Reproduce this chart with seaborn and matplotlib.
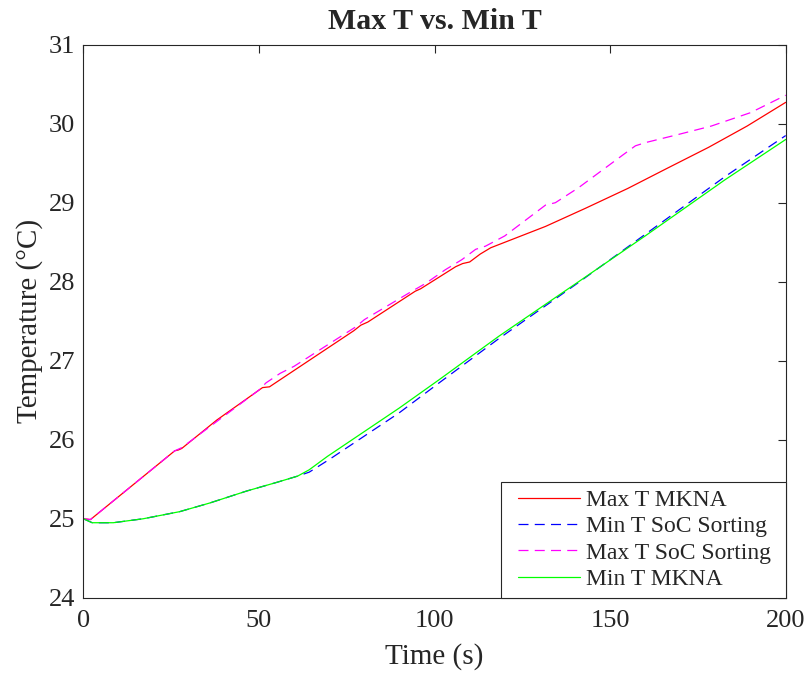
import numpy as np
import pandas as pd
import matplotlib
matplotlib.use("Agg")
import matplotlib.pyplot as plt
import seaborn as sns
from matplotlib.legend_handler import HandlerLine2D

# values
t_max_mkna = [0, 2, 26, 27, 28, 38, 51, 53, 54, 77, 79, 81, 94.5, 96, 106, 108, 110,
              113, 116, 131.6, 143, 155, 166, 178, 189, 200]
T_max_mkna = [25.00, 24.99, 25.86, 25.87, 25.89, 26.25, 26.66, 26.67, 26.70, 27.38, 27.45,
              27.49, 27.88, 27.91, 28.19, 28.23, 28.25, 28.35, 28.43, 28.70, 28.93, 29.18,
              29.43, 29.70, 29.97, 30.27]

t_min_soc = [0, 2.5, 8.5, 17, 27.4, 36, 46.4, 55, 61, 64.3, 70, 89.9, 101.3, 118.3,
             141, 160, 182.7, 200]
T_min_soc = [25.00, 24.95, 24.95, 25.00, 25.09, 25.20, 25.35, 25.46, 25.54, 25.59, 25.75,
             26.34, 26.72, 27.28, 27.99, 28.60, 29.33, 29.85]

t_max_soc = [0, 2, 26, 27, 28, 50, 52, 56, 60, 77.6, 80, 92.8, 97.5, 103, 107.8, 111.7,
             114.5, 120, 131.6, 134.4, 141, 153.8, 157.2, 160, 170, 178.8, 190, 200]
T_max_soc = [25.00, 24.99, 25.86, 25.88, 25.90, 26.63, 26.72, 26.84, 26.93, 27.43, 27.52,
             27.86, 27.98, 28.15, 28.28, 28.41, 28.45, 28.58, 28.97, 29.00, 29.19, 29.61,
             29.72, 29.76, 29.87, 29.97, 30.14, 30.36]

t_min_mkna = [0, 2.5, 8.5, 17, 27.4, 36, 46.4, 55, 61, 64.3, 69.5, 89.9, 101.3, 118.3,
              141, 160, 182.7, 200]
T_min_mkna = [25.00, 24.95, 24.95, 25.00, 25.09, 25.20, 25.35, 25.46, 25.54, 25.62, 25.79,
              26.40, 26.76, 27.31, 28.00, 28.58, 29.29, 29.80]

x_ticks = [0, 50, 100, 150, 200]
y_ticks = [24, 25, 26, 27, 28, 29, 30, 31]

sns.set_theme(style="white")
plt.rcParams['font.family'] = ['Liberation Serif', 'DejaVu Serif']

fig = plt.figure(figsize=(8.1, 6.77), dpi=100)
ax = fig.add_axes([0.103, 0.117, 0.867, 0.817])

dash = [8, 5]
sns.lineplot(x=t_max_mkna, y=T_max_mkna, ax=ax, color='#FF0000', lw=0.9,
             label='Max T MKNA', sort=False)
sns.lineplot(x=t_min_soc, y=T_min_soc, ax=ax, color='#0000FF', lw=0.9,
             label='Min T SoC Sorting', sort=False).lines[-1].set_dashes(dash)
sns.lineplot(x=t_max_soc, y=T_max_soc, ax=ax, color='#FF00FF', lw=0.9,
             label='Max T SoC Sorting', sort=False).lines[-1].set_dashes(dash)
sns.lineplot(x=t_min_mkna, y=T_min_mkna, ax=ax, color='#00FF00', lw=0.9,
             label='Min T MKNA', sort=False)

ax.set_xlim(0, 200)
ax.set_ylim(24, 31)
ax.set_xticks(x_ticks)
ax.set_yticks(y_ticks)
ax.tick_params(direction='in', length=6, width=0.8, top=True, right=True,
               labelsize=19, colors='#262626')
ax.tick_params(axis='x', pad=9)
ax.tick_params(axis='y', pad=6)
for s in ax.spines.values():
    s.set_color('#262626')
    s.set_linewidth(0.8)
    s.set_visible(True)

ax.set_title('Max T vs. Min T', fontsize=21.5, fontweight='bold', pad=11)
ax.set_xlabel('Time (s)', fontsize=21, labelpad=8)
ax.set_ylabel('Temperature (°C)', fontsize=21, labelpad=4)

handles, labels = ax.get_legend_handles_labels()
leg = ax.legend(handles, labels, loc='lower left', bbox_to_anchor=(0.594, 0, 0.406, 0.2),
                mode='expand', fontsize=17, frameon=True, fancybox=False,
                edgecolor='#262626', framealpha=1, borderaxespad=0,
                handlelength=3.05, handletextpad=0.25, labelspacing=0.2, borderpad=0.33,
                handler_map={h: HandlerLine2D(xpad=0.4) for h in handles})
leg.get_frame().set_linewidth(0.8)

fig.savefig('out.png', dpi=100)
